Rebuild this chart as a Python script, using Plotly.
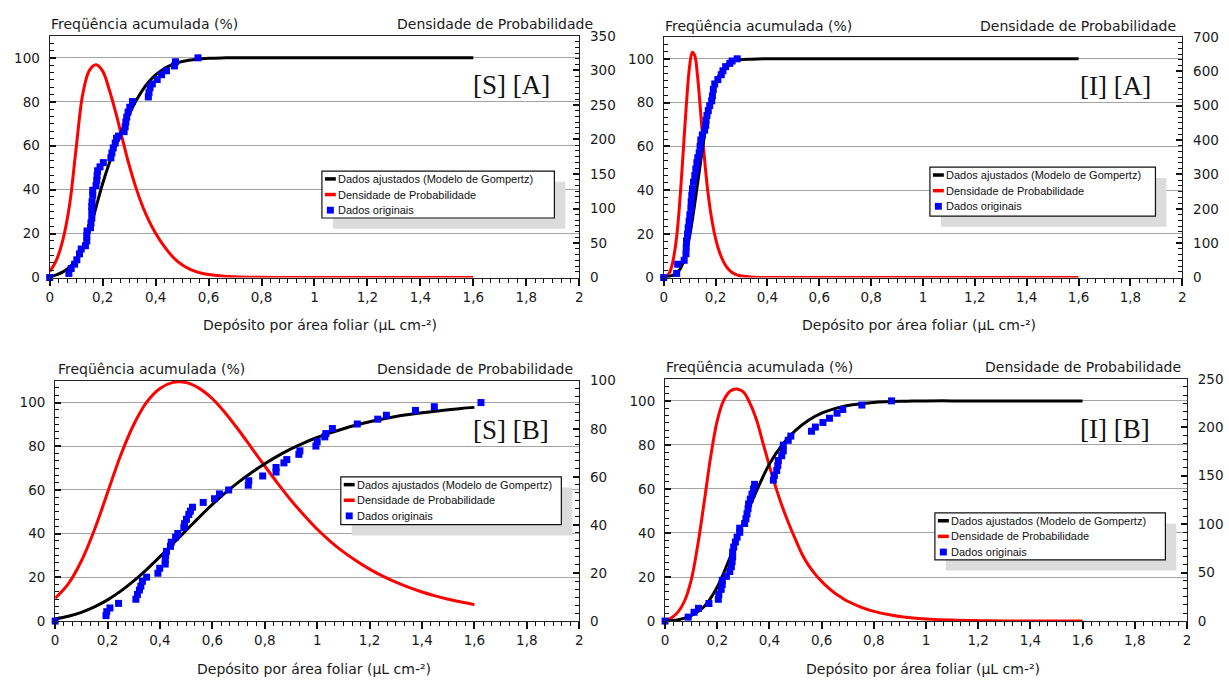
import plotly.graph_objects as go

# ------------------------------------------------------------------ data
# [S] [A]
SA_FIT_X = [0, 0.025, 0.05, 0.075, 0.1, 0.125, 0.15, 0.175, 0.2, 0.225, 0.25, 0.275, 0.3,
            0.325, 0.35, 0.375, 0.4, 0.425, 0.45, 0.475, 0.5, 0.525, 0.55, 0.575, 0.6,
            0.65, 0.7, 0.8, 0.9, 1.0, 1.1, 1.2, 1.3, 1.4, 1.5, 1.6]
SA_FIT_Y = [0.4, 1.2, 2.6, 4.8, 7.9, 13.0, 21.0, 32.0, 42.8, 52.0, 60.2, 67.7, 74.3,
            80.2, 85.2, 89.2, 92.2, 94.5, 96.2, 97.4, 98.3, 98.9, 99.3, 99.6, 99.8,
            99.95, 100, 100, 100, 100, 100, 100, 100, 100, 100, 100]
SA_DENS_X = SA_FIT_X
SA_DENS_Y = [8.5, 25, 55, 105, 188, 266, 300, 308, 299, 272, 238, 200, 163,
             131, 104, 82, 64, 49, 36.5, 26, 18.5, 13, 9, 6.3, 4.5,
             2.3, 1.2, 0.3, 0.1, 0, 0, 0, 0, 0, 0, 0]
SA_OBS_X = [0, 0.0725, 0.081, 0.094, 0.1025, 0.1125, 0.119, 0.135, 0.14, 0.14, 0.141, 0.154,
            0.156, 0.159, 0.159, 0.159, 0.16, 0.1625, 0.1625, 0.175, 0.1775, 0.179, 0.181,
            0.19, 0.2025, 0.231, 0.235, 0.24, 0.2475, 0.2525, 0.26, 0.281, 0.285, 0.2875,
            0.291, 0.296, 0.3025, 0.3125, 0.3725, 0.375, 0.379, 0.3875, 0.406, 0.4225,
            0.441, 0.471, 0.475, 0.56]
SA_OBS_Y = [0, 1.9, 4.1, 6.1, 8.1, 10.8, 13.0, 14.5, 16.7, 19.0, 21.2, 22.7, 24.9, 27.1,
            30.1, 32.3, 34.5, 37.5, 39.7, 41.9, 44.1, 46.4, 48.6, 50.4, 52.3, 54.5, 56.7,
            59.0, 61.2, 63.4, 64.4, 66.4, 68.6, 70.8, 73.0, 75.3, 77.5, 80.1, 82.2, 84.1,
            86.4, 88.1, 90.1, 92.3, 94.1, 96.3, 98.2, 100]

# [I] [A]
IA_FIT_X = [0, 0.02, 0.04, 0.06, 0.08, 0.1, 0.12, 0.14, 0.16, 0.18, 0.2, 0.22, 0.24, 0.26,
            0.28, 0.3, 0.32, 0.36, 0.4, 0.5, 0.6, 0.8, 1.0, 1.2, 1.4, 1.6]
IA_FIT_Y = [0.1, 0.45, 1.3, 3.3, 8.5, 18.8, 34.0, 50.8, 67.0, 80.0, 88.8, 94.0, 97.0, 98.6,
            99.35, 99.65, 99.8, 99.95, 100, 100, 100, 100, 100, 100, 100, 100]
IA_DENS_X = [0, 0.01, 0.02, 0.03, 0.04, 0.05, 0.06, 0.07, 0.08, 0.09, 0.1, 0.11, 0.12, 0.13,
             0.14, 0.15, 0.16, 0.17, 0.18, 0.19, 0.2, 0.21, 0.22, 0.23, 0.24, 0.25, 0.26,
             0.27, 0.28, 0.29, 0.3, 0.35, 0.4, 0.5, 0.6, 0.8, 1.0, 1.2, 1.4, 1.6]
IA_DENS_Y = [1, 3.5, 11, 30, 65, 118, 200, 305, 420, 530, 615, 655, 645, 590,
             505, 410, 325, 252, 195, 150, 114, 86, 64, 47, 34, 24, 17,
             12, 8.5, 6, 4.3, 1, 0.3, 0.05, 0, 0, 0, 0, 0, 0]
IA_OBS_X = [0, 0.05, 0.054, 0.079, 0.086, 0.087, 0.088, 0.092, 0.0945, 0.098, 0.101, 0.105,
            0.106, 0.1085, 0.111, 0.115, 0.12, 0.124, 0.128, 0.1315, 0.137, 0.1405, 0.143,
            0.149, 0.158, 0.162, 0.1635, 0.167, 0.172, 0.1775, 0.185, 0.188, 0.1915, 0.197,
            0.209, 0.222, 0.2285, 0.239, 0.255, 0.264, 0.2835]
IA_OBS_Y = [0, 1.9, 6.1, 7.9, 10.9, 13.8, 16.8, 19.8, 22.8, 25.7, 28.7, 31.7, 34.7, 37.6,
            40.6, 43.6, 46.6, 49.6, 52.5, 54.8, 57.0, 60.0, 62.9, 65.2, 67.4, 69.6, 71.9,
            74.1, 76.3, 78.6, 80.8, 83.0, 86.0, 88.5, 90.5, 92.7, 94.5, 96.4, 97.9, 99.0, 100]

# [S] [B]
SB_FIT_X = [0, 0.05, 0.1, 0.15, 0.2, 0.25, 0.3, 0.35, 0.4, 0.45, 0.5, 0.55, 0.6, 0.65, 0.7,
            0.75, 0.8, 0.85, 0.9, 0.95, 1.0, 1.05, 1.1, 1.15, 1.2, 1.25, 1.3, 1.35, 1.4,
            1.45, 1.5, 1.55, 1.6]
SB_FIT_Y = [1.0, 2.2, 4.0, 6.5, 9.7, 13.7, 18.4, 23.7, 29.5, 35.5, 41.5, 47.6, 53.4, 58.8,
            63.6, 68.0, 72.0, 75.6, 78.8, 81.6, 84.0, 86.1, 88.0, 89.7, 91.2, 92.5, 93.6,
            94.5, 95.3, 96.0, 96.7, 97.3, 97.8]
SB_DENS_X = SB_FIT_X
SB_DENS_Y = [9.5, 15.5, 25, 38, 53.5, 69, 81.8, 91.2, 96.8, 99.3, 99.2, 96.8, 92.5, 86.5,
             79.5, 72, 64.5, 57.2, 50.3, 44, 38.2, 33.2, 28.8, 25, 21.6, 18.7, 16.2, 14,
             12.1, 10.5, 9.1, 7.9, 6.8]
SB_OBS_X = [0, 0.194, 0.197, 0.209, 0.242, 0.308, 0.314, 0.3215, 0.327, 0.333, 0.349, 0.392,
            0.399, 0.42, 0.42, 0.4215, 0.425, 0.44, 0.443, 0.4595, 0.468, 0.491, 0.494,
            0.501, 0.51, 0.516, 0.524, 0.565, 0.608, 0.627, 0.662, 0.737, 0.739, 0.792,
            0.843, 0.843, 0.873, 0.884, 0.93, 0.934, 0.995, 1.0, 1.029, 1.033, 1.058, 1.153,
            1.231, 1.264, 1.375, 1.447, 1.625]
SB_OBS_Y = [0, 2.5, 4.3, 6.0, 8.1, 10.0, 12.2, 14.2, 16.0, 18.2, 20.1, 21.9, 24.2, 26.1,
            27.9, 30.1, 31.9, 34.2, 36.1, 38.4, 40.1, 42.8, 44.6, 46.6, 48.8, 50.3, 52.1,
            54.3, 56.0, 58.2, 60.0, 62.2, 64.2, 66.4, 68.2, 70.3, 72.4, 73.9, 76.3, 77.9,
            80.1, 82.1, 84.3, 85.8, 88.1, 90.2, 92.4, 94.2, 96.4, 98.1, 100]

# [I] [B]
IB_FIT_X = [0, 0.05, 0.1, 0.15, 0.2, 0.25, 0.3, 0.35, 0.4, 0.45, 0.5, 0.55, 0.6, 0.65, 0.7,
            0.75, 0.8, 0.85, 0.9, 0.95, 1.0, 1.1, 1.2, 1.3, 1.4, 1.5, 1.6]
IB_FIT_Y = [0.1, 0.6, 2.5, 6.6, 15.5, 29.2, 44.8, 59.0, 71.3, 80.2, 86.6, 91.2, 94.4, 96.5,
            97.9, 98.7, 99.3, 99.6, 99.8, 99.9, 100, 100, 100, 100, 100, 100, 100]
IB_DENS_X = [0, 0.025, 0.05, 0.075, 0.1, 0.125, 0.15, 0.175, 0.2, 0.225, 0.25, 0.275, 0.3,
             0.325, 0.35, 0.375, 0.4, 0.425, 0.45, 0.475, 0.5, 0.525, 0.55, 0.575, 0.6,
             0.625, 0.65, 0.675, 0.7, 0.75, 0.8, 0.85, 0.9, 0.95, 1.0, 1.1, 1.2, 1.3, 1.4,
             1.5, 1.6]
IB_DENS_Y = [0.7, 3.5, 9.5, 21, 42, 78, 123, 170, 207, 228, 237.5, 239.6, 236.5,
             225, 208, 184, 160, 137.5, 117.5, 100, 84, 69, 57.5, 48.5, 41,
             34.5, 29, 24.5, 20.5, 14.5, 10, 7, 4.7, 3.2, 2.2, 1, 0.45, 0.2, 0.1,
             0, 0]
IB_OBS_X = [0, 0.0886, 0.111, 0.128, 0.168, 0.204, 0.206, 0.215, 0.219, 0.219, 0.235, 0.248,
            0.254, 0.257, 0.259, 0.259, 0.263, 0.2695, 0.276, 0.286, 0.286, 0.305, 0.31,
            0.314, 0.318, 0.32, 0.3265, 0.333, 0.339, 0.343, 0.415, 0.419, 0.428, 0.432,
            0.434, 0.447, 0.453, 0.453, 0.472, 0.482, 0.561, 0.576, 0.605, 0.63, 0.659,
            0.681, 0.754, 0.868]
IB_OBS_Y = [0, 1.8, 4.0, 5.8, 8.0, 9.9, 12.1, 14.4, 16.6, 18.5, 20.3, 22.5, 24.7, 27.0,
            29.2, 31.4, 33.6, 35.9, 38.1, 40.3, 42.2, 44.3, 46.5, 48.7, 51.0, 53.2, 55.4,
            57.6, 60.0, 62.1, 64.0, 66.2, 68.4, 70.7, 72.9, 75.1, 77.3, 79.9, 82.1, 84.0,
            86.2, 88.1, 90.2, 92.1, 94.4, 96.1, 98.1, 100]

# Axis scales: x 0..2 step 0.2, cumulative 0..110 step 20, density max / step per panel
X_RANGE, X_STEP = [0, 2], 0.2
FREQ_RANGE, FREQ_STEP = [0, 110], 20
DENS_MAX = [350, 700, 100, 250]
DENS_STEP = [50, 100, 20, 50]

PANEL_LABELS = ["[S] [A]", "[I] [A]", "[S] [B]", "[I] [B]"]
LEGEND_TEXT = ["Dados ajustados (Modelo de Gompertz)", "Densidade de Probabilidade",
               "Dados originais"]
FREQ_TITLE = "Freqüência acumulada (%)"
DENS_TITLE = "Densidade de Probabilidade"
X_TITLE = "Depósito por área foliar (µL cm-²)"

# ------------------------------------------------------------------ layout
W, H = 1229, 687
SANS = "DejaVu Sans"
TEXT = "#1a1a1a"
AXIS = "#222222"
TICK = "#111111"


def fx(p):
    return p / W


def fy(p):
    return 1 - p / H


panels = [
    dict(fit=(SA_FIT_X, SA_FIT_Y), dens=(SA_DENS_X, SA_DENS_Y), obs=(SA_OBS_X, SA_OBS_Y),
         box=(46, 28.5, 579, 276), label=(511, 79),
         ftitle=(45, 16), dtitle=(595, 16), xtitle=(318, 325), legend=(320, 167, 554, 215)),
    dict(fit=(IA_FIT_X, IA_FIT_Y), dens=(IA_DENS_X, IA_DENS_Y), obs=(IA_OBS_X, IA_OBS_Y),
         box=(664, 29.6, 1186, 276), label=(1119, 80),
         ftitle=(663, 18), dtitle=(1182, 18), xtitle=(921, 325), legend=(932, 163, 1159, 213)),
    dict(fit=(SB_FIT_X, SB_FIT_Y), dens=(SB_DENS_X, SB_DENS_Y), obs=(SB_OBS_X, SB_OBS_Y),
         box=(51.5, 381.6, 579, 627.7), label=(510, 432),
         ftitle=(52, 370), dtitle=(575, 370), xtitle=(312, 677), legend=(339, 480, 561, 529)),
    dict(fit=(IB_FIT_X, IB_FIT_Y), dens=(IB_DENS_X, IB_DENS_Y), obs=(IB_OBS_X, IB_OBS_Y),
         box=(665.4, 379.7, 1190.7, 627.7), label=(1118, 431),
         ftitle=(664, 368), dtitle=(1187, 368), xtitle=(925, 677), legend=(937, 517, 1169, 565)),
]

fig = go.Figure()
layout = dict(
    width=W, height=H, margin=dict(l=0, r=0, t=0, b=0),
    paper_bgcolor="white", plot_bgcolor="white", showlegend=False,
    separators=",.",
    font=dict(family=SANS, size=13.5, color=TEXT),
)
shapes, annotations = [], []
tick_font = dict(family=SANS, size=13.5, color=TEXT)

for k, p in enumerate(panels):
    n = k + 1
    xa = "x" if n == 1 else f"x{n}"
    yr_id, yl_id = 2 * n - 1, 2 * n          # right (density) axis is the base, left overlays it
    yr = "y" if yr_id == 1 else f"y{yr_id}"
    yl = f"y{yl_id}"
    x0, y0, x1, y1 = p["box"]
    xdom = [fx(x0), fx(x1)]
    ydom = [fy(y1), fy(y0)]

    layout["xaxis" if n == 1 else f"xaxis{n}"] = dict(
        domain=xdom, anchor=yr, range=X_RANGE,
        tickmode="linear", tick0=0, dtick=X_STEP,
        ticks="outside", ticklen=7, tickwidth=1.5, tickcolor=TICK,
        minor=dict(dtick=X_STEP / 6, ticks="outside", ticklen=4, tickwidth=1.4,
                   tickcolor=TICK),
        showline=True, linecolor=AXIS, linewidth=1.2, mirror=True,
        showgrid=False, zeroline=False, tickfont=tick_font, layer="above traces",
    )
    layout["yaxis" if yr_id == 1 else f"yaxis{yr_id}"] = dict(
        domain=ydom, anchor=xa, side="right", range=[0, DENS_MAX[k]],
        tickmode="linear", tick0=0, dtick=DENS_STEP[k],
        ticks="inside", ticklen=6, tickwidth=1.5, tickcolor=TICK,
        minor=dict(dtick=DENS_STEP[k] / 6, ticks="inside", ticklen=4, tickwidth=1.4,
                   tickcolor=TICK),
        showline=True, linecolor=AXIS, linewidth=1.2,
        showgrid=False, zeroline=False, tickfont=tick_font, ticklabelstandoff=7,
        layer="above traces",
    )
    layout[f"yaxis{yl_id}"] = dict(
        domain=ydom, anchor=xa, overlaying=yr, side="left", range=FREQ_RANGE,
        tickmode="linear", tick0=0, dtick=FREQ_STEP,
        ticks="inside", ticklen=6, tickwidth=1.5, tickcolor=TICK,
        minor=dict(dtick=FREQ_STEP / 6, ticks="inside", ticklen=4, tickwidth=1.4,
                   tickcolor=TICK),
        showline=True, linecolor=AXIS, linewidth=1.2,
        showgrid=True, gridcolor="#a4a4a4", gridwidth=1, zeroline=False,
        tickfont=tick_font, ticklabelstandoff=6, layer="above traces",
    )

    # probability density (red) on the right axis
    fig.add_trace(go.Scatter(x=p["dens"][0], y=p["dens"][1], mode="lines",
                             line=dict(color="#ff0000", width=3, shape="spline", smoothing=1.0),
                             xaxis=xa, yaxis=yr, cliponaxis=False))
    # Gompertz fit (black) and observed points (blue) on the left axis
    fig.add_trace(go.Scatter(x=p["fit"][0], y=p["fit"][1], mode="lines",
                             line=dict(color="#000000", width=3, shape="spline", smoothing=1.0),
                             xaxis=xa, yaxis=yl, cliponaxis=False))
    fig.add_trace(go.Scatter(x=p["obs"][0], y=p["obs"][1], mode="markers",
                             marker=dict(symbol="square", size=7, color="#0000ff",
                                         line=dict(width=0)),
                             xaxis=xa, yaxis=yl, cliponaxis=False))

    # axis captions
    cap_font = dict(family=SANS, size=14, color=TEXT)
    annotations.append(dict(x=fx(p["ftitle"][0]), y=fy(p["ftitle"][1]), xref="paper", yref="paper",
                            text=FREQ_TITLE, showarrow=False, xanchor="left", yanchor="middle",
                            font=cap_font))
    annotations.append(dict(x=fx(p["dtitle"][0]), y=fy(p["dtitle"][1]), xref="paper", yref="paper",
                            text=DENS_TITLE, showarrow=False, xanchor="right", yanchor="middle",
                            font=cap_font))
    annotations.append(dict(x=fx(p["xtitle"][0]), y=fy(p["xtitle"][1]), xref="paper", yref="paper",
                            text=X_TITLE, showarrow=False, xanchor="center", yanchor="middle",
                            font=cap_font))
    # panel tag
    annotations.append(dict(x=fx(p["label"][0]), y=fy(p["label"][1]), xref="paper", yref="paper",
                            text=PANEL_LABELS[k], showarrow=False, xanchor="center",
                            yanchor="middle",
                            font=dict(family="Liberation Serif", size=27, color="#111111")))

    # legend box with drop shadow
    L, T, R, B = p["legend"]
    shapes.append(dict(type="rect", xref="paper", yref="paper", layer="above",
                       x0=fx(L + 11), x1=fx(R + 11), y0=fy(B + 11), y1=fy(T + 11),
                       fillcolor="#dcdcdc", line=dict(width=0)))
    shapes.append(dict(type="rect", xref="paper", yref="paper", layer="above",
                       x0=fx(L), x1=fx(R), y0=fy(B), y1=fy(T),
                       fillcolor="white", line=dict(color="#111111", width=1.2)))
    for i, txt in enumerate(LEGEND_TEXT):
        ry = T + 8 + 16 * i
        if i < 2:
            shapes.append(dict(type="line", xref="paper", yref="paper", layer="above",
                               x0=fx(L + 3), x1=fx(L + 14), y0=fy(ry), y1=fy(ry),
                               line=dict(color="#000000" if i == 0 else "#ff0000", width=3.5)))
        else:
            shapes.append(dict(type="rect", xref="paper", yref="paper", layer="above",
                               x0=fx(L + 5), x1=fx(L + 12), y0=fy(ry + 3.5), y1=fy(ry - 3.5),
                               fillcolor="#0000ff", line=dict(width=0)))
        annotations.append(dict(x=fx(L + 14), y=fy(ry), xref="paper", yref="paper",
                                text=txt, showarrow=False, xanchor="left", yanchor="middle",
                                font=dict(family="Liberation Sans", size=11, color="#111111")))

layout["shapes"] = shapes
layout["annotations"] = annotations
fig.update_layout(**layout)
fig.write_html("out.html")
